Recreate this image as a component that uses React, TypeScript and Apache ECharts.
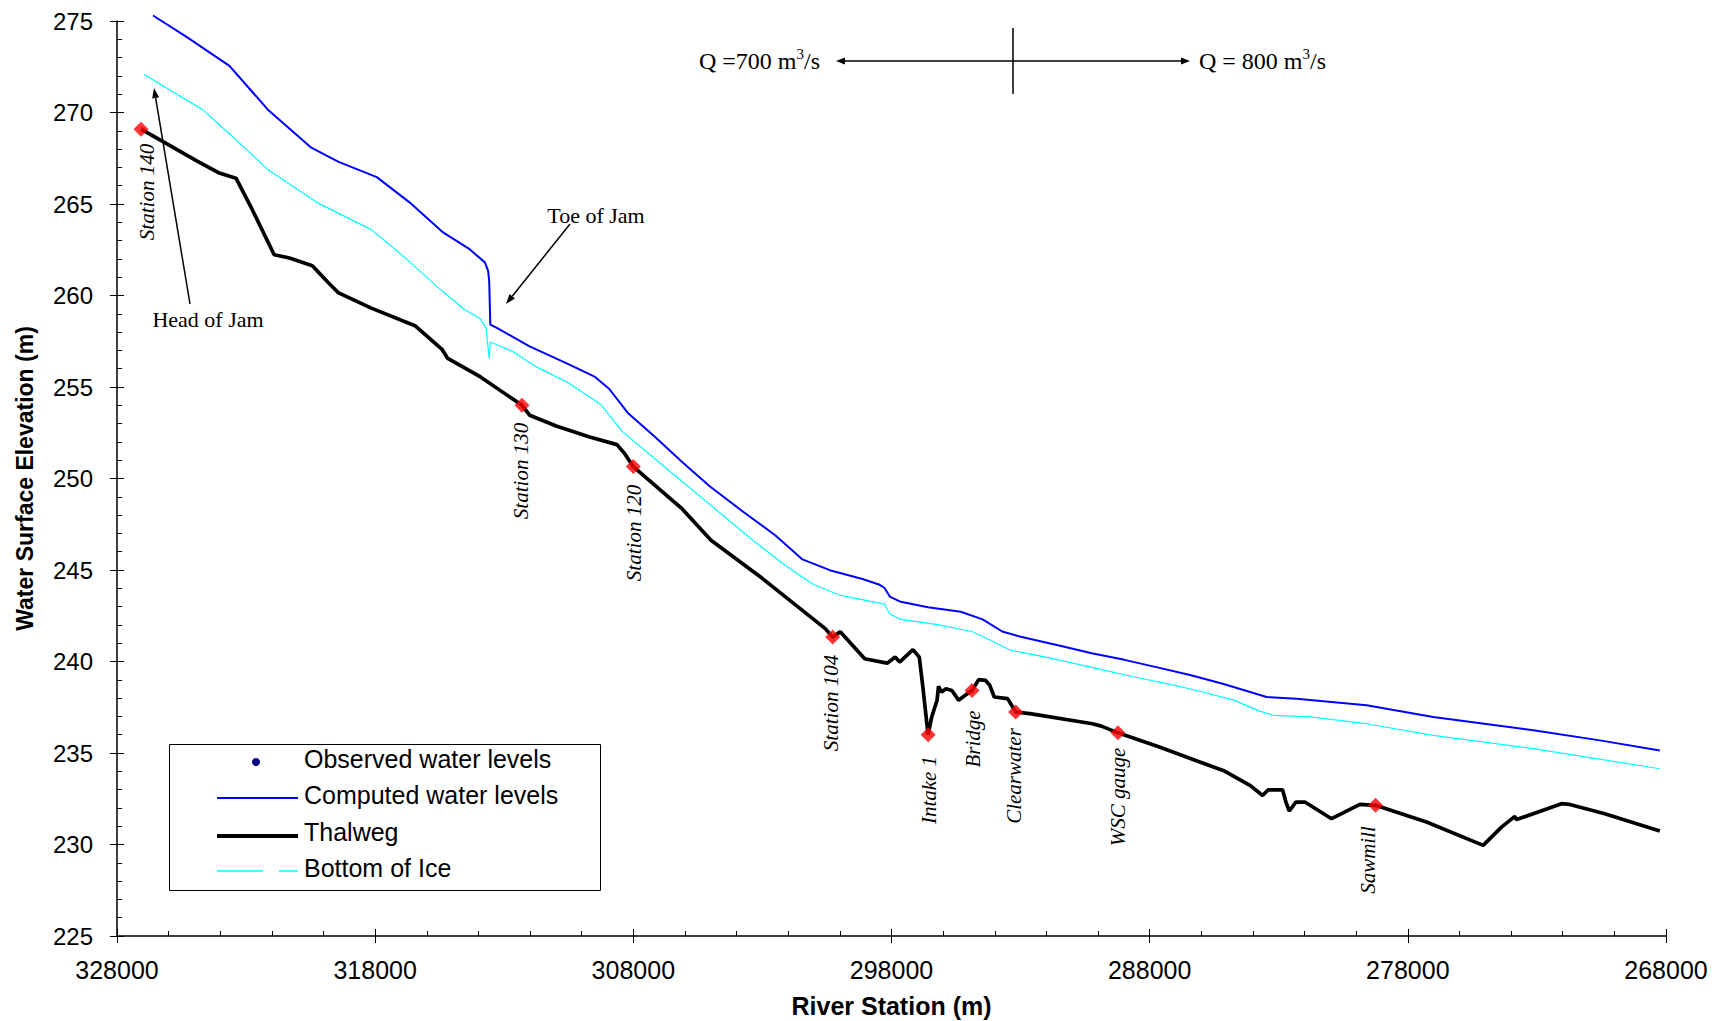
import React, { useEffect, useRef } from "react";
import * as echarts from "echarts";

// ---------- data ----------
const thalwegStation = [
  327070, 326182, 324913, 324068, 323391, 322799, 321912, 321320, 320432, 319840,
  319417, 318149, 316457, 315400, 315189, 313920, 312314, 312018, 310961, 309692,
  308635, 308339, 308001, 306116, 304991, 302995, 300577, 300277, 299985, 299038,
  298171, 297854, 297685, 297169, 296924, 296785, 296582, 296442, 296235, 296180,
  296062, 295889, 295660, 295402, 295144, 294882, 294624, 294362, 294193, 294020,
  293500, 293191, 292637, 290218, 289871, 289229, 287623, 286058, 285153, 284113,
  283627, 283407, 282853, 282722, 282591, 282337, 281986, 280955, 279855, 279251,
  277277, 275082, 274372, 273856, 273793, 272047, 271726, 270373, 268240,
];
const thalwegElevation = [
  269.09, 268.38, 267.36, 266.71, 266.41, 264.8, 262.23, 262.05, 261.63, 260.74,
  260.14, 259.31, 258.35, 257.04, 256.56, 255.55, 254.0, 253.46, 252.86, 252.27,
  251.85, 251.37, 250.65, 248.35, 246.62, 244.53, 241.81, 241.34, 241.62, 240.15,
  239.91, 240.24, 239.97, 240.65, 240.24, 238.6, 236.0, 236.97, 237.88, 238.64,
  238.33, 238.51, 238.42, 237.88, 238.15, 238.42, 239.01, 238.97, 238.7, 238.06,
  237.97, 237.24, 237.15, 236.6, 236.47, 236.1, 235.33, 234.51, 234.05, 233.23,
  232.68, 232.99, 232.99, 232.32, 231.83, 232.32, 232.32, 231.41, 232.19, 232.14,
  231.23, 229.95, 230.95, 231.54, 231.36, 232.23, 232.19, 231.68, 230.74,
];

const computedStation = [
  326605, 325336, 323645, 322165, 320474, 319417, 317937, 316669, 315400, 314343,
  313751, 313624, 313582, 313540, 313286, 312018, 310538, 309481, 308931, 308213,
  307156, 306099, 305042, 303773, 302505, 301448, 300391, 299122, 298488, 298277,
  298065, 297642, 296585, 295317, 294471, 293710, 292991, 291512, 290243, 288975,
  287706, 286438, 285169, 283470, 282311, 279597, 277018, 273144, 270561, 268240,
];
const computedElevation = [
  275.3, 274.16, 272.55, 270.17, 268.08, 267.3, 266.47, 265.09, 263.48, 262.53,
  261.81, 261.34, 260.74, 258.41, 258.23, 257.22, 256.26, 255.55, 254.89, 253.58,
  252.27, 250.89, 249.58, 248.21, 246.9, 245.58, 244.99, 244.51, 244.21, 244.03,
  243.55, 243.26, 242.96, 242.72, 242.3, 241.64, 241.35, 240.87, 240.45, 240.09,
  239.68, 239.26, 238.78, 238.06, 237.97, 237.61, 236.97, 236.24, 235.69, 235.14,
];

const iceStation = [
  326943, 325759, 324702, 323560, 322165, 320263, 318149, 316880, 315612, 314555,
  313920, 313709, 313582, 313540, 312652, 311807, 310538, 309270, 308424, 307156,
  305887, 304619, 303350, 302082, 301025, 299968, 298277, 298065, 297642, 296163,
  294894, 294260, 293414, 291934, 290243, 288552, 287284, 286015, 284747, 283732,
  283216, 281795, 279597, 277018, 273144, 268240,
];
const iceElevation = [
  272.08, 271.06, 270.17, 268.73, 266.89, 265.09, 263.6, 262.11, 260.5, 259.25,
  258.71, 258.23, 256.56, 257.46, 256.92, 256.14, 255.25, 254.06, 252.56, 251.07,
  249.58, 248.09, 246.6, 245.22, 244.21, 243.61, 243.14, 242.6, 242.3, 242.0,
  241.64, 241.23, 240.63, 240.21, 239.68, 239.14, 238.78, 238.36, 237.89, 237.29,
  237.06, 236.97, 236.6, 235.96, 235.24, 234.14,
];

const observedNames = [
  "Station 140", "Station 130", "Station 120", "Station 104", "Intake 1",
  "Bridge", "Clearwater", "WSC gauge", "Sawmill",
];
const observedStation = [327070, 312314, 308001, 300277, 296582, 294882, 293191, 289229, 279251];
const observedElevation = [269.09, 254.0, 250.65, 241.34, 236.0, 238.42, 237.24, 236.1, 232.14];

const legendNames = ["Observed water levels", "Computed water levels", "Thalweg", "Bottom of Ice"];

const xMin = 268000;
const xMax = 328000;
const xStep = 10000;
const yMin = 225;
const yMax = 275;
const yStep = 5;

// ---------- helpers ----------
const SANS = "'Liberation Sans', Arial, sans-serif";
const SERIF = "'Liberation Serif', 'Times New Roman', serif";

const zip = (a: number[], b: number[]) => a.map((v, i) => [v, b[i]]);

function arrow(x1: number, y1: number, x2: number, y2: number, head = 10, w = 3.5) {
  const dx = x2 - x1;
  const dy = y2 - y1;
  const len = Math.sqrt(dx * dx + dy * dy);
  const ux = dx / len;
  const uy = dy / len;
  const bx = x2 - ux * head;
  const by = y2 - uy * head;
  const px = -uy;
  const py = ux;
  return [
    {
      type: "line",
      shape: { x1, y1, x2: bx, y2: by },
      style: { stroke: "#000", lineWidth: 1.5 },
      z: 100,
    },
    {
      type: "polygon",
      shape: {
        points: [
          [x2, y2],
          [bx + px * w, by + py * w],
          [bx - px * w, by - py * w],
        ],
      },
      style: { fill: "#000" },
      z: 100,
    },
  ];
}

function vlabel(text: string, x: number, y: number) {
  return {
    type: "text",
    x,
    y,
    rotation: Math.PI / 2,
    style: {
      text,
      font: `italic 21px ${SERIF}`,
      fill: "#000",
      align: "center",
      verticalAlign: "middle",
    },
    z: 100,
  };
}

function qLabel(text: string, x: number, y: number) {
  return {
    type: "text",
    x,
    y,
    style: {
      text: `{a|${text}}{b|3}{a|/s}`,
      align: "left",
      verticalAlign: "middle",
      rich: {
        a: { fontSize: 24, fontFamily: SERIF, fill: "#000", lineHeight: 30 },
        b: { fontSize: 15, fontFamily: SERIF, fill: "#000", verticalAlign: "top", lineHeight: 30 },
      },
    },
    z: 100,
  };
}

const labelPositions: [number, number][] = [
  [147, 192],
  [521, 471],
  [634, 533],
  [831, 703],
  [929, 790],
  [973, 739],
  [1014, 776],
  [1118, 797],
  [1368, 860],
];

export default function App() {
  const ref = useRef<HTMLDivElement>(null);

  useEffect(() => {
    if (!ref.current) return;
    const chart = echarts.init(ref.current, undefined, { renderer: "svg" });

    const commonX = {
      type: "value",
      inverse: true,
      min: xMin,
      max: xMax,
      interval: xStep,
      position: "bottom",
      splitLine: { show: false },
    };
    const commonY = {
      type: "value",
      min: yMin,
      max: yMax,
      interval: yStep,
      position: "left",
      splitLine: { show: false },
    };

    const legendTop = 744;
    const rows = [762, 798, 836, 871];
    const textRows = [759, 795, 832, 868];

    const graphic: any[] = [
      // Discharge annotation
      {
        type: "line",
        shape: { x1: 1013, y1: 28, x2: 1013, y2: 94 },
        style: { stroke: "#000", lineWidth: 1.5 },
        z: 100,
      },
      ...arrow(1013, 61, 836, 61, 9, 3.5),
      ...arrow(1013, 61, 1190, 61, 9, 3.5),
      qLabel("Q =700 m", 699, 61),
      qLabel("Q = 800 m", 1199, 61),
      // Toe of Jam
      {
        type: "text",
        x: 596,
        y: 215,
        style: { text: "Toe of Jam", font: `22px ${SERIF}`, fill: "#000", align: "center", verticalAlign: "middle" },
        z: 100,
      },
      ...arrow(570, 224, 506, 304, 10, 3.5),
      // Head of Jam
      {
        type: "text",
        x: 208,
        y: 319,
        style: { text: "Head of Jam", font: `22px ${SERIF}`, fill: "#000", align: "center", verticalAlign: "middle" },
        z: 100,
      },
      ...arrow(190, 304, 154, 88, 10, 3.5),
      // Station labels
      ...observedNames.map((n, i) => vlabel(n, labelPositions[i][0], labelPositions[i][1])),
      // Legend box
      {
        type: "rect",
        shape: { x: 169.5, y: legendTop + 0.5, width: 431, height: 146 },
        style: { fill: "#fff", stroke: "#000", lineWidth: 1 },
        z: 110,
      },
      {
        type: "circle",
        shape: { cx: 256, cy: rows[0], r: 4 },
        style: { fill: "#000080" },
        z: 111,
      },
      {
        type: "line",
        shape: { x1: 217, y1: rows[1], x2: 298, y2: rows[1] },
        style: { stroke: "#0000FF", lineWidth: 2 },
        z: 111,
      },
      {
        type: "line",
        shape: { x1: 217, y1: rows[2], x2: 298, y2: rows[2] },
        style: { stroke: "#000", lineWidth: 4 },
        z: 111,
      },
      {
        type: "line",
        shape: { x1: 217, y1: rows[3], x2: 263, y2: rows[3] },
        style: { stroke: "#00FFFF", lineWidth: 1.5 },
        z: 111,
      },
      {
        type: "line",
        shape: { x1: 279, y1: rows[3], x2: 298, y2: rows[3] },
        style: { stroke: "#00FFFF", lineWidth: 1.5 },
        z: 111,
      },
      ...legendNames.map((n, i) => ({
        type: "text",
        x: 304,
        y: textRows[i],
        style: { text: n, font: `25px ${SANS}`, fill: "#000", align: "left", verticalAlign: "middle" },
        z: 111,
      })),
    ];

    chart.setOption({
      animation: false,
      backgroundColor: "#fff",
      grid: { left: 117, right: 46, top: 21, bottom: 85, containLabel: false, outerBoundsMode: "none" },
      xAxis: [
        {
          ...commonX,
          name: "River Station (m)",
          nameLocation: "middle",
          nameGap: 57,
          nameTextStyle: { fontFamily: SANS, fontWeight: "bold", fontSize: 25, color: "#000" },
          axisLine: { show: true, lineStyle: { color: "#000", width: 1.5 } },
          axisTick: { show: true, inside: true, length: 7, lineStyle: { color: "#000", width: 1 } },
          minorTick: { show: true, splitNumber: 5, length: 5, lineStyle: { color: "#000", width: 1 } },
          axisLabel: {
            show: true,
            margin: 21,
            fontFamily: SANS,
            fontSize: 25,
            color: "#000",
            formatter: (v: number) => String(v),
          },
        },
        {
          ...commonX,
          axisLine: { show: false },
          axisTick: { show: true, inside: false, length: 7, lineStyle: { color: "#000", width: 1 } },
          axisLabel: { show: false },
        },
      ],
      yAxis: [
        {
          ...commonY,
          name: "Water Surface Elevation (m)",
          nameLocation: "middle",
          nameGap: 81,
          nameTextStyle: { fontFamily: SANS, fontWeight: "bold", fontSize: 23, color: "#000" },
          axisLine: { show: true, lineStyle: { color: "#000", width: 1.5 } },
          axisTick: { show: true, inside: true, length: 7, lineStyle: { color: "#000", width: 1 } },
          minorTick: { show: true, splitNumber: 5, length: 5, lineStyle: { color: "#000", width: 1 } },
          axisLabel: { show: true, margin: 24, fontFamily: SANS, fontSize: 24, color: "#000" },
        },
        {
          ...commonY,
          axisLine: { show: false },
          axisTick: { show: true, inside: false, length: 7, lineStyle: { color: "#000", width: 1 } },
          axisLabel: { show: false },
        },
      ],
      series: [
        {
          name: "Bottom of Ice",
          type: "line",
          xAxisIndex: 0,
          yAxisIndex: 0,
          data: zip(iceStation, iceElevation),
          showSymbol: false,
          lineStyle: { color: "#00FFFF", width: 1.2 },
          clip: true,
          z: 2,
        },
        {
          name: "Computed water levels",
          type: "line",
          xAxisIndex: 0,
          yAxisIndex: 0,
          data: zip(computedStation, computedElevation),
          showSymbol: false,
          lineStyle: { color: "#0000FF", width: 2 },
          clip: false,
          z: 3,
        },
        {
          name: "Thalweg",
          type: "line",
          xAxisIndex: 0,
          yAxisIndex: 0,
          data: zip(thalwegStation, thalwegElevation),
          showSymbol: false,
          lineStyle: { color: "#000", width: 3.7 },
          clip: true,
          z: 4,
        },
        {
          name: "Observed water levels",
          type: "scatter",
          xAxisIndex: 0,
          yAxisIndex: 0,
          data: observedStation.map((s, i) => ({ name: observedNames[i], value: [s, observedElevation[i]] })),
          symbol: "diamond",
          symbolSize: 15,
          itemStyle: { color: "#FF0000" },
          z: 5,
        },
      ],
      graphic,
    });

    return () => chart.dispose();
  }, []);

  return (
    <div
      ref={ref}
      style={{ position: "fixed", left: 0, top: 0, width: 1712, height: 1021, background: "#fff" }}
    />
  );
}
